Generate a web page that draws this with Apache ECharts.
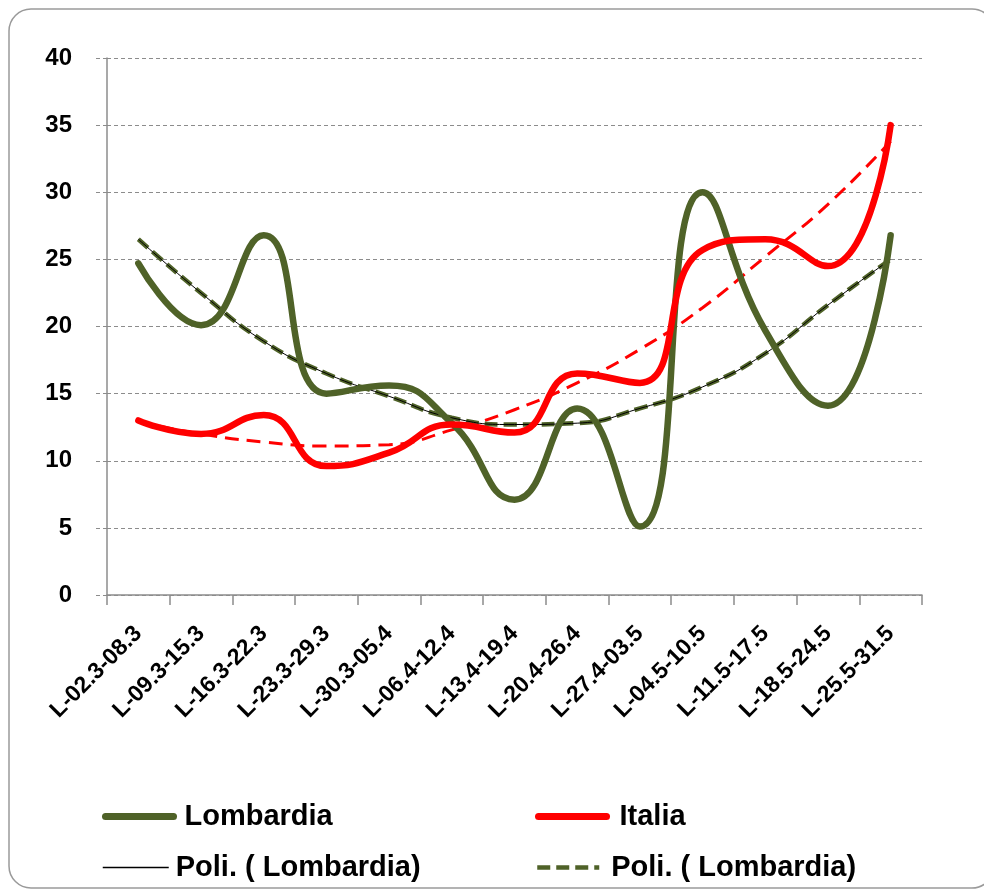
<!DOCTYPE html>
<html>
<head>
<meta charset="utf-8">
<script src="https://cdn.jsdelivr.net/npm/echarts@6/dist/echarts.min.js"></script>
<style>
html,body{margin:0;padding:0;background:#fff;}
#chart{width:984px;height:890px;}
</style>
</head>
<body>
<div id="chart"></div>
<script>
const categories = ['L-02.3-08.3','L-09.3-15.3','L-16.3-22.3','L-23.3-29.3','L-30.3-05.4','L-06.4-12.4','L-13.4-19.4','L-20.4-26.4','L-27.4-03.5','L-04.5-10.5','L-11.5-17.5','L-18.5-24.5','L-25.5-31.5'];
const lombardia = [24.7, 20.1, 26.8, 15.0, 15.6, 12.8, 7.1, 13.9, 5.1, 30.0, 19.7, 14.1, 26.8];
const italia = [13.0, 12.0, 13.4, 9.6, 10.6, 12.7, 12.1, 16.5, 15.8, 25.7, 26.5, 24.5, 35.0];
const trendItalia = [12.9, 12.0, 11.4, 11.1, 11.2, 12.3, 13.8, 15.8, 18.3, 21.4, 25.2, 29.1, 33.8];
const trendLombardia = [26.5, 22.5, 18.9, 16.5, 14.8, 13.2, 12.7, 12.8, 13.9, 15.5, 18.0, 21.6, 25.0];
const yMin = 0, yMax = 40, yStep = 5;

const FONT = '"Liberation Sans", Arial, sans-serif';
const GREEN = '#4F6228';
const RED = '#FF0000';

const chart = echarts.init(document.getElementById('chart'), null, {renderer: 'canvas'});

function legendItem(name, left, top, width, lineW, padLeft) {
  return {
    data: [name],
    left: left, top: top,
    orient: 'horizontal',
    padding: 0,
    itemGap: 0,
    itemWidth: width,
    itemHeight: 28,
    selectedMode: false,
    itemStyle: {opacity: 0},
    lineStyle: {width: lineW},
    formatter: function (n) { return n === 'Poli2' ? 'Poli. ( Lombardia)' : n; },
    textStyle: {fontFamily: FONT, fontWeight: 'bold', fontSize: 29, color: '#000', padding: [0, 0, 0, padLeft]}
  };
}

const option = {
  animation: false,
  backgroundColor: '#fff',
  graphic: [{
    type: 'rect',
    shape: {x: 9, y: 9, width: 985, height: 879, r: 22},
    style: {fill: 'none', stroke: '#9a9a9a', lineWidth: 1.5},
    silent: true, z: -10
  }],
  grid: {left: 107, right: 62, top: 58, bottom: 295, containLabel: false},
  legend: [
    legendItem('Lombardia', 102, 802, 68, 7, 6),
    legendItem('Italia', 535, 802, 68, 7, 8),
    legendItem('Poli. ( Lombardia)', 102, 853, 66, 1.5, 2),
    legendItem('Poli2', 535, 853, 62, 4.5, 7)
  ],
  xAxis: {
    type: 'category',
    data: categories,
    boundaryGap: true,
    axisLine: {show: true, lineStyle: {color: '#8c8c8c', width: 1.5}},
    axisTick: {show: true, length: 10, alignWithLabel: false, lineStyle: {color: '#8c8c8c', width: 1.5}},
    axisLabel: {
      rotate: 45, margin: 35, interval: 0,
      fontFamily: FONT, fontWeight: 'bold', fontSize: 23, color: '#000'
    },
    splitLine: {show: false}
  },
  yAxis: {
    type: 'value',
    min: yMin, max: yMax, interval: yStep,
    axisLine: {show: true, lineStyle: {color: '#8c8c8c', width: 1.5}},
    axisTick: {show: true, length: 11, lineStyle: {color: '#8c8c8c', width: 1, type: [4, 3]}},
    axisLabel: {margin: 35, fontFamily: FONT, fontWeight: 'bold', fontSize: 24, color: '#000'},
    splitLine: {show: true, lineStyle: {color: '#8c8c8c', width: 1, type: [4, 3]}}
  },
  series: [
    {
      name: 'Poli. ( Italia)', type: 'line', data: trendItalia, smooth: 0.5,
      symbol: 'none', z: 2,
      lineStyle: {color: RED, width: 3, type: [14, 8]},
      itemStyle: {color: RED}
    },
    {
      name: 'Poli2', type: 'line', data: trendLombardia, smooth: 0.5,
      symbol: 'none', z: 2,
      lineStyle: {color: GREEN, width: 4.5, type: [13, 6]},
      itemStyle: {color: GREEN}
    },
    {
      name: 'Poli. ( Lombardia)', type: 'line', data: trendLombardia, smooth: 0.5,
      symbol: 'none', z: 3,
      lineStyle: {color: '#000', width: 1},
      itemStyle: {color: '#000'}
    },
    {
      name: 'Lombardia', type: 'line', data: lombardia, smooth: 0.5,
      symbol: 'none', z: 4,
      lineStyle: {color: GREEN, width: 6.5, cap: 'round'},
      itemStyle: {color: GREEN}
    },
    {
      name: 'Italia', type: 'line', data: italia, smooth: 0.5,
      symbol: 'none', z: 5,
      lineStyle: {color: RED, width: 6.5, cap: 'round'},
      itemStyle: {color: RED}
    }
  ]
};
chart.setOption(option);
</script>
</body>
</html>
